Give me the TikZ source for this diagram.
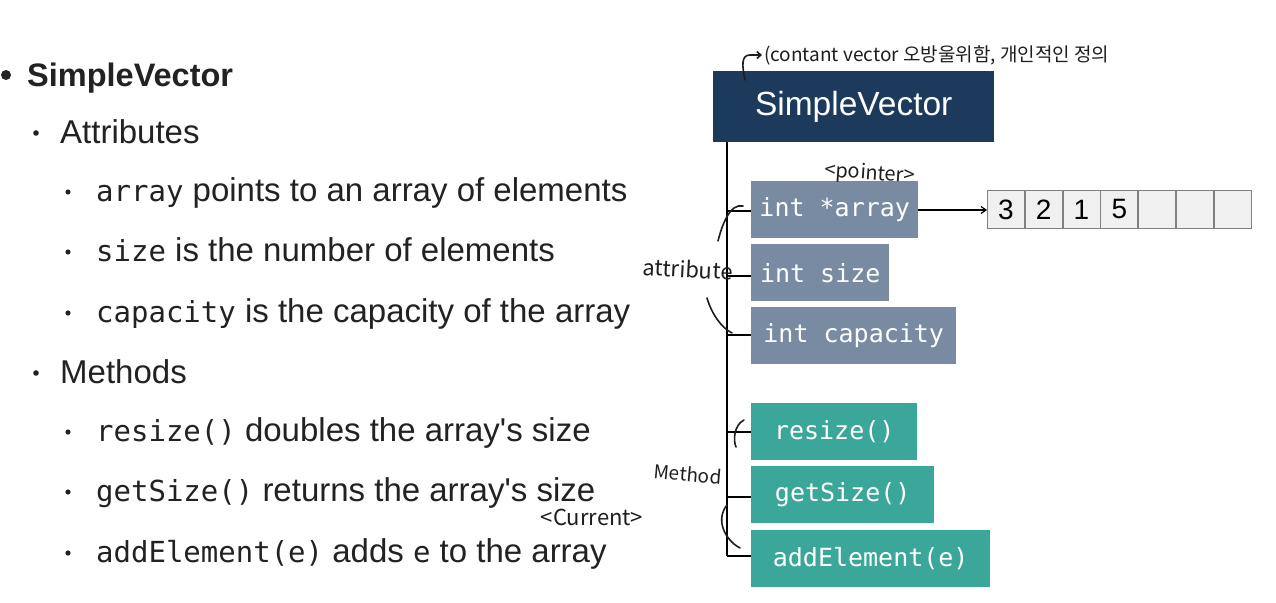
\documentclass[tikz,border=0pt]{standalone}
\usepackage{fontspec}
\setmainfont{Liberation Sans}
\newfontfamily\monof{DejaVu Sans Mono}
\newfontfamily\handf{Noto Sans CJK KR}
\usetikzlibrary{arrows.meta}
\definecolor{navy}{HTML}{1B3A5C}
\definecolor{slate}{HTML}{788BA3}
\definecolor{tealx}{HTML}{3BA69A}
\definecolor{txt}{HTML}{222222}
\definecolor{cellfill}{HTML}{F0F0F0}
\definecolor{cellline}{HTML}{808080}
\definecolor{ink}{HTML}{1E1E1E}
\newcommand{\mcode}[1]{{\monof\fontsize{29}{34}\selectfont #1}}
\begin{document}
\begin{tikzpicture}[x=1pt,y=-1pt,
  lefttext/.style={anchor=base west,inner sep=0pt,text=txt,font=\fontsize{33}{38}\selectfont},
  attrbox/.style={fill=slate,text=white,anchor=north west,minimum height=57pt,inner sep=0pt,font=\monof\fontsize{25}{30}\selectfont},
  methbox/.style={fill=tealx,text=white,anchor=north west,minimum height=57pt,inner sep=0pt,font=\monof\fontsize{25}{30}\selectfont},
  conn/.style={draw=black,line width=1.4pt},
  cell/.style={draw=cellline,fill=cellfill,line width=0.8pt,minimum width=37pt,minimum height=38pt,inner sep=0pt,anchor=north west,font=\fontsize{28}{32}\selectfont},
  hand/.style={draw=ink,line width=1.6pt,line cap=round},
  handtext/.style={text=ink,inner sep=0pt,font=\handf\fontsize{19}{21}\selectfont}
]
\useasboundingbox (0,0) rectangle (1276,602);
\fill[white] (0,0) rectangle (1276,602);

% ---------- left bullet list ----------
\fill[txt] (6,75) circle (5);
\node[lefttext,font=\bfseries\fontsize{32.5}{38}\selectfont] (t0) at (27,86) {SimpleVector};
\fill[txt] (36,133) circle (2.8);
\node[lefttext] (t1) at (60,143) {Attributes};
\fill[txt] (68,192) circle (2.6);
\node[lefttext] (t2) at (96,201) {\mcode{array} points to an array of elements};
\fill[txt] (68,252) circle (2.6);
\node[lefttext] (t3) at (96,261) {\mcode{size} is the number of elements};
\fill[txt] (68,313) circle (2.6);
\node[lefttext] (t4) at (96,322) {\mcode{capacity} is the capacity of the array};
\fill[txt] (36,373) circle (2.8);
\node[lefttext] (t5) at (60,383) {Methods};
\fill[txt] (68,432) circle (2.6);
\node[lefttext] (t6) at (96,441) {\mcode{resize()} doubles the array\textquotesingle s size};
\fill[txt] (68,492) circle (2.6);
\node[lefttext] (t7) at (96,501) {\mcode{getSize()} returns the array\textquotesingle s size};
\fill[txt] (68,553) circle (2.6);
\node[lefttext] (t8) at (96,562) {\mcode{addElement(e)} adds \mcode{e} to the array};

% ---------- class diagram ----------
\node[fill=navy,text=white,anchor=north west,minimum width=281pt,minimum height=71pt,inner sep=0pt,font=\fontsize{33.5}{38}\selectfont] (sv) at (713,71) {SimpleVector};

\node[attrbox,minimum width=167pt] (a1) at (751,181) {int *array};
\node[attrbox,minimum width=138pt] (a2) at (751,244) {int size};
\node[attrbox,minimum width=205pt] (a3) at (751,307) {int capacity};
\node[methbox,minimum width=166pt] (m1) at (751,403) {resize()};
\node[methbox,minimum width=183pt] (m2) at (751,466) {getSize()};
\node[methbox,minimum width=239pt] (m3) at (751,530) {addElement(e)};

\coordinate (trunktop) at (727,142);
\coordinate (trunkbot) at (727,556);
\draw[conn] (trunktop) -- (trunkbot);
\draw[conn] (727,211) -- (a1.west |- 0,211);
\draw[conn] (727,276) -- (a2.west |- 0,276);
\draw[conn] (727,335) -- (a3.west |- 0,335);
\draw[conn] (727,432) -- (m1.west |- 0,432);
\draw[conn] (727,497) -- (m2.west |- 0,497);
\draw[conn] (trunkbot) -- (m3.west |- 0,556);

% array cells
\node[cell] (c1) at (987,190) {3};
\node[cell] (c2) at (c1.north east) {2};
\node[cell] (c3) at (c2.north east) {1};
\node[cell] (c4) at (c3.north east) {5};
\node[cell] (c5) at (c4.north east) {};
\node[cell] (c6) at (c5.north east) {};
\node[cell] (c7) at (c6.north east) {};

\draw[line width=1.2pt,-{Straight Barb[length=5pt,width=7pt]}] (a1.east |- 0,210) -- (c1.west |- 0,210);

% ---------- handwritten notes ----------
\coordinate (hk0) at (745,80);
\coordinate (hk1) at (762,55);
\draw[hand,-{Straight Barb[length=4pt,width=7pt]}] (hk0) .. controls (742,66) and (741,55) .. (750,55) -- (hk1);
\node[handtext,anchor=west] (note) at (764,55) {(contant vector 오방울위함, 개인적인 정의};

\node[handtext,font=\handf\fontsize{20}{22}\selectfont,rotate=-4] (ptr) at (870,174) {<pointer>};
\node[handtext,font=\handf\fontsize{22}{24}\selectfont,rotate=-3] (attr) at (688,269) {attribute};
\node[handtext,font=\handf\fontsize{19}{21}\selectfont,rotate=-5] (meth) at (688,474) {Method};
\node[handtext,font=\handf\fontsize{22}{24}\selectfont] (cur) at (592,517) {<Current>};

\draw[hand] (743,206) .. controls (730,203) and (722,225) .. (718,241);
\draw[hand] (707,298) .. controls (712,315) and (722,328) .. (732,333);
\draw[hand] (744,420) .. controls (734,425) and (733,440) .. (736,447);
\draw[hand] (727,505) .. controls (715,520) and (725,540) .. (740,548);
\end{tikzpicture}
\end{document}
